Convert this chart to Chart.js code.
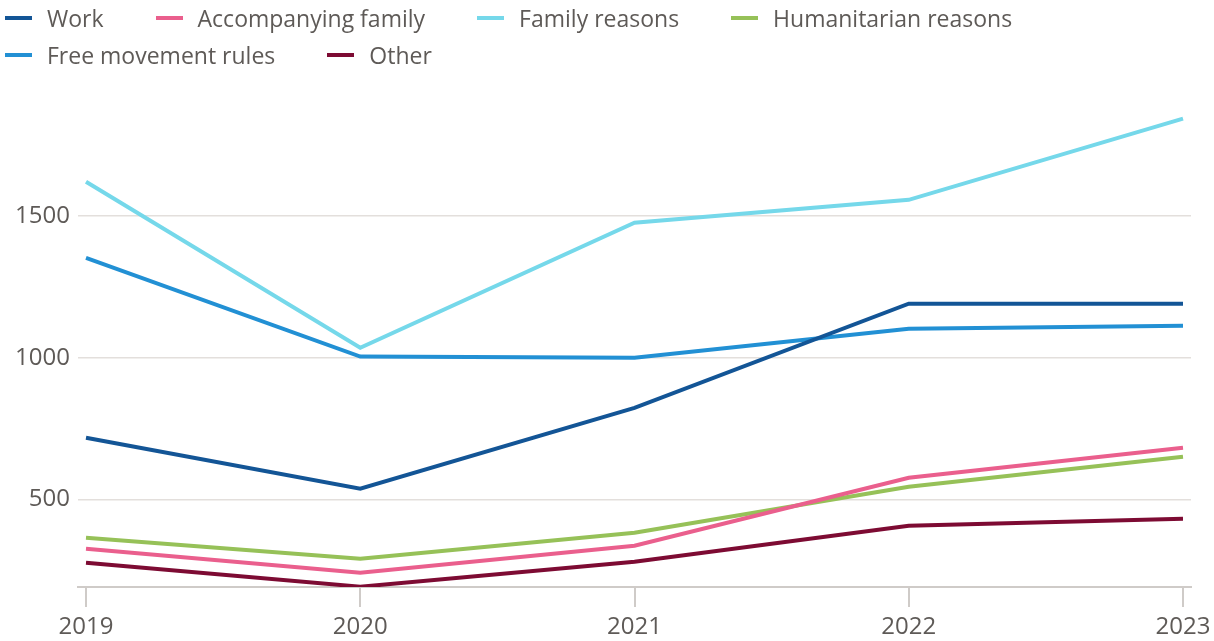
<!DOCTYPE html>
<html>
<head>
<meta charset="utf-8">
<script src="https://cdn.jsdelivr.net/npm/chart.js@4"></script>
<style>
  html, body { margin: 0; padding: 0; background: #fff; }
  #wrap { position: relative; width: 1214px; height: 641px; }
  #legend {
    position: absolute; left: 5px; top: 4px; width: 1010px;
    display: flex; flex-wrap: wrap; column-gap: 52px; row-gap: 10px;
    font-family: "Open Sans", sans-serif; font-size: 23px; color: #5e5a57;
  }
  .item { display: flex; align-items: center; height: 27px; }
  .swatch { width: 27px; height: 4px; margin-right: 15px; }
</style>
</head>
<body>
<div id="wrap">
  <div id="legend"></div>
  <canvas id="myChart" width="1214" height="641"></canvas>
</div>
<script>
// values
const years = [2019, 2020, 2021, 2022, 2023];
const work = [717, 537, 823, 1191, 1191];
const accompanying = [325, 240, 336, 576, 682];
const familyReasons = [1622, 1035, 1477, 1558, 1845];
const humanitarian = [364, 290, 382, 544, 650];
const freeMovement = [1353, 1004, 1000, 1102, 1113];
const other = [276, 191, 279, 406, 431];
const yTicks = [500, 1000, 1500];

const series = [
  { label: "Work", data: work, color: "#135596" },
  { label: "Accompanying family", data: accompanying, color: "#ea5f8d" },
  { label: "Family reasons", data: familyReasons, color: "#75d8ea" },
  { label: "Humanitarian reasons", data: humanitarian, color: "#96c158" },
  { label: "Free movement rules", data: freeMovement, color: "#2290d4" },
  { label: "Other", data: other, color: "#7d0b33" }
];

const legend = document.getElementById("legend");
series.forEach(s => {
  const el = document.createElement("div");
  el.className = "item";
  el.innerHTML = '<span class="swatch" style="background:' + s.color + '"></span>' + s.label;
  legend.appendChild(el);
});

const font = { family: "'Open Sans', sans-serif", size: 24 };
const pad = 8 / 274.25;

const ctx = document.getElementById("myChart").getContext("2d");
new Chart(ctx, {
  type: "line",
  data: {
    datasets: series.map(s => ({
      label: s.label,
      data: s.data.map((v, i) => ({ x: years[i], y: v })),
      borderColor: s.color,
      backgroundColor: s.color,
      borderWidth: 4,
      pointRadius: 0,
      tension: 0
    }))
  },
  options: {
    responsive: false,
    animation: false,
    layout: { padding: { top: 103, right: 23, left: 0, bottom: 0 } },
    plugins: { legend: { display: false }, tooltip: { enabled: false } },
    scales: {
      x: {
        type: "linear",
        min: years[0] - pad,
        max: years[years.length - 1] + pad,
        afterBuildTicks: axis => { axis.ticks = years.map(v => ({ value: v })); },
        afterFit: axis => { axis.height = 54; axis.paddingLeft = 0; axis.paddingRight = 0; },
        ticks: { color: "#5e5a57", font: font, padding: 6, maxRotation: 0, callback: v => String(v) },
        grid: { drawOnChartArea: false, drawTicks: true, tickLength: 20, color: "#cfcbc8", lineWidth: 2 },
        border: { display: true, color: "#cfcbc8", width: 2 }
      },
      y: {
        min: 190,
        max: 1900,
        afterBuildTicks: axis => { axis.ticks = yTicks.map(v => ({ value: v })); },
        afterFit: axis => { axis.width = 78; axis.paddingTop = 0; axis.paddingBottom = 0; },
        ticks: { color: "#5e5a57", font: font, padding: 8, callback: v => String(v) },
        grid: { drawTicks: false, color: "#e3dfdc", lineWidth: 1.5 },
        border: { display: false }
      }
    }
  }
});
</script>
</body>
</html>
